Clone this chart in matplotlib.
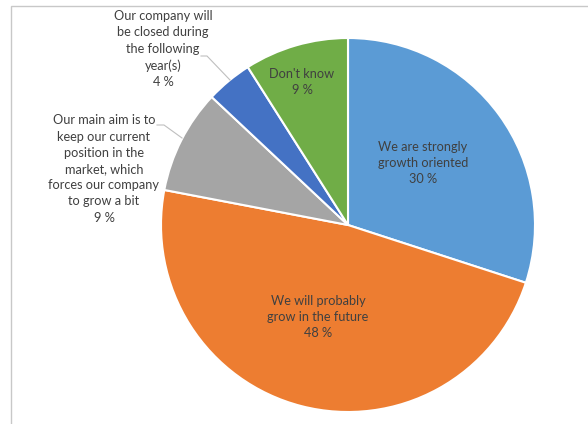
import matplotlib.pyplot as plt
from matplotlib.patches import Rectangle

# Survey answers on growth orientation (%)
labels = [
    "We are strongly\ngrowth oriented",
    "We will probably\ngrow in the future",
    "Our main aim is to\nkeep our current\nposition in the\nmarket, which\nforces our company\nto grow a bit",
    "Our company will\nbe closed during\nthe following\nyear(s)",
    "Don't know",
]
values = [30, 48, 9, 4, 9]
colors = ["#5B9BD5", "#ED7D31", "#A5A5A5", "#4472C4", "#70AD47"]

W, H = 588, 424
CX, CY, R = 348, 225, 187  # pie centre and radius in pixels


def to_data(px, py):
    return (px - CX) / R, (CY - py) / R


fig = plt.figure(figsize=(W / 100, H / 100), dpi=100)
fig.patch.set_facecolor("white")

# chart area border
fig.patches.append(Rectangle((11 / W, -0.1), 1.2, 1 - 6 / H + 0.1,
                             transform=fig.transFigure, fill=False,
                             edgecolor="#C8C8C8", linewidth=1.0))

ax = fig.add_axes([(CX - R) / W, (H - CY - R) / H, 2 * R / W, 2 * R / H])

ax.pie(values, colors=colors, startangle=90, counterclock=False, radius=1,
       wedgeprops=dict(edgecolor="white", linewidth=1.5))
ax.set_xlim(-1, 1)
ax.set_ylim(-1, 1)
ax.axis("off")

# label positions (pixel centres)
label_pos = [(423, 163), (318, 317), (104, 169), (163, 49), (302, 82)]
text_kw = dict(ha="center", va="center", color="#404040", fontsize=9.2,
               family="Lato", linespacing=1.42)

for lab, v, (px, py) in zip(labels, values, label_pos):
    x, y = to_data(px, py)
    ax.text(x, y, f"{lab}\n{v} %", clip_on=False, **text_kw)

# leader lines for the small outside slices
leaders = [
    [(157, 125), (164, 125), (182, 138)],
    [(201, 56), (207, 56), (230, 80)],
]
for pts in leaders:
    xs, ys = zip(*[to_data(px, py) for px, py in pts])
    ax.plot(xs, ys, color="#BFBFBF", linewidth=0.8, clip_on=False)

plt.savefig("out.png", dpi=100)
